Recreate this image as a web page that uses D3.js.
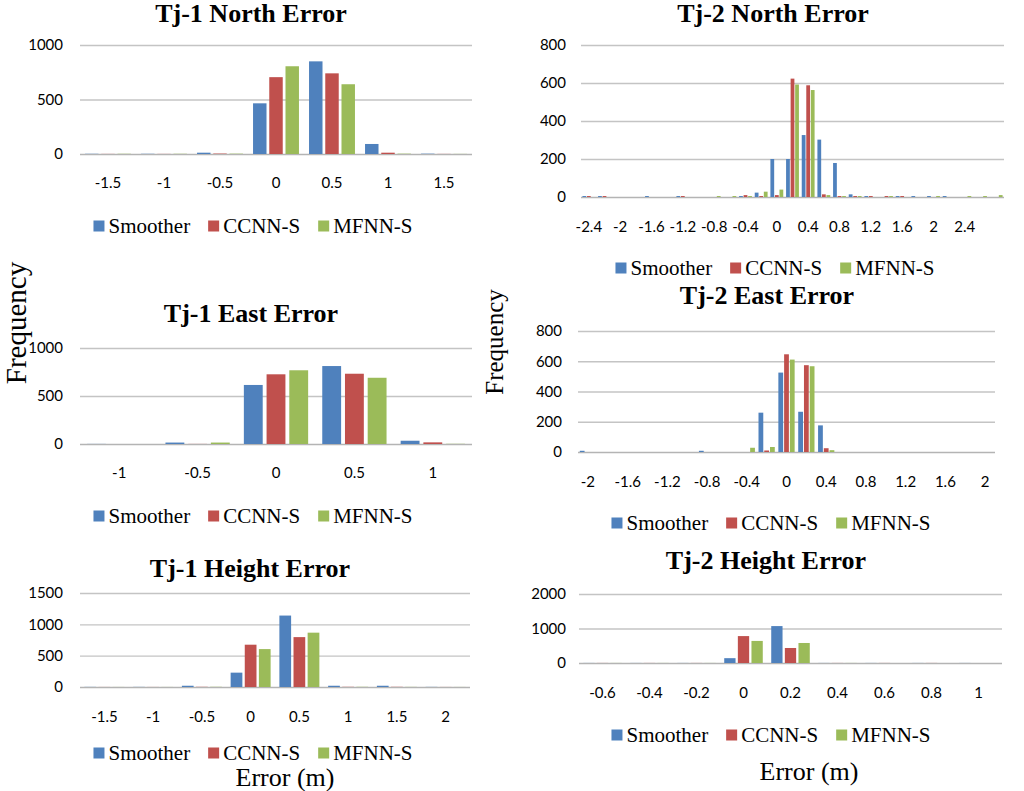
<!DOCTYPE html>
<html>
<head>
<meta charset="utf-8">
<script src="https://cdn.jsdelivr.net/npm/d3@7"></script>
<style>
  body { margin: 0; background: #fff; }
</style>
</head>
<body>
<script>
//series drawn in every panel
var seriesNames = ['Smoother', 'CCNN-S', 'MFNN-S'];
var seriesColors = ['#4f81bd', '#c0504d', '#9bbb59'];

//Tj-1 north error
var tj1NorthBins = ['-1.5', '-1', '-0.5', '0', '0.5', '1', '1.5'];
var tj1NorthSmoother = [2, 2, 12, 465, 850, 92, 3];
var tj1NorthCcnn = [1, 1, 4, 705, 740, 12, 1];
var tj1NorthMfnn = [2, 2, 3, 805, 640, 3, 1];
var tj1NorthYTicks = [0, 500, 1000];

//Tj-2 north error
var tj2NorthBins = ['-2.4', '-2.2', '-2', '-1.8', '-1.6', '-1.4', '-1.2', '-1', '-0.8', '-0.6', '-0.4', '-0.2', '0',
  '0.2', '0.4', '0.6', '0.8', '1', '1.2', '1.4', '1.6', '1.8', '2', '2.2', '2.4', '2.6', '2.8'];
var tj2NorthSmoother = [5, 5, 0, 0, 5, 0, 5, 0, 0, 0, 5, 23, 200, 200, 326, 302, 179, 14, 5, 0, 5, 5, 5, 5, 0, 0, 0];
var tj2NorthCcnn = [5, 5, 0, 0, 0, 0, 5, 0, 0, 0, 10, 5, 10, 623, 588, 14, 5, 5, 5, 5, 5, 0, 0, 0, 0, 0, 0];
var tj2NorthMfnn = [0, 0, 0, 0, 0, 0, 0, 0, 5, 5, 5, 28, 39, 592, 563, 10, 5, 5, 0, 5, 0, 0, 5, 0, 5, 5, 10];
var tj2NorthXTicks = ['-2.4', '-2', '-1.6', '-1.2', '-0.8', '-0.4', '0', '0.4', '0.8', '1.2', '1.6', '2', '2.4'];
var tj2NorthYTicks = [0, 200, 400, 600, 800];

//Tj-1 east error
var tj1EastBins = ['-1', '-0.5', '0', '0.5', '1'];
var tj1EastSmoother = [1, 15, 615, 812, 34];
var tj1EastCcnn = [0, 1, 726, 732, 17];
var tj1EastMfnn = [0, 15, 768, 690, 2];
var tj1EastYTicks = [0, 500, 1000];

//Tj-2 east error
var tj2EastBins = ['-2', '-1.8', '-1.6', '-1.4', '-1.2', '-1', '-0.8', '-0.6', '-0.4', '-0.2', '0',
  '0.2', '0.4', '0.6', '0.8', '1', '1.2', '1.4', '1.6', '1.8', '2'];
var tj2EastSmoother = [8, 0, 0, 0, 0, 0, 8, 0, 0, 260, 525, 266, 176, 0, 0, 0, 0, 0, 0, 0, 0];
var tj2EastCcnn = [0, 0, 0, 0, 0, 0, 0, 0, 0, 10, 646, 574, 25, 0, 0, 0, 0, 0, 0, 0, 0];
var tj2EastMfnn = [0, 0, 0, 0, 0, 0, 0, 0, 28, 33, 611, 567, 12, 0, 0, 0, 0, 0, 0, 0, 0];
var tj2EastXTicks = ['-2', '-1.6', '-1.2', '-0.8', '-0.4', '0', '0.4', '0.8', '1.2', '1.6', '2'];
var tj2EastYTicks = [0, 200, 400, 600, 800];

//Tj-1 height error
var tj1HeightBins = ['-1.5', '-1', '-0.5', '0', '0.5', '1', '1.5', '2'];
var tj1HeightSmoother = [2, 2, 20, 229, 1140, 20, 20, 2];
var tj1HeightCcnn = [1, 1, 3, 675, 796, 3, 3, 1];
var tj1HeightMfnn = [1, 1, 3, 605, 867, 3, 2, 1];
var tj1HeightYTicks = [0, 500, 1000, 1500];

//Tj-2 height error
var tj2HeightBins = ['-0.6', '-0.4', '-0.2', '0', '0.2', '0.4', '0.6', '0.8', '1'];
var tj2HeightSmoother = [2, 2, 2, 140, 1070, 2, 2, 2, 2];
var tj2HeightCcnn = [2, 2, 2, 780, 435, 2, 2, 2, 0];
var tj2HeightMfnn = [2, 2, 2, 640, 580, 2, 0, 0, 0];
var tj2HeightYTicks = [0, 1000, 2000];

//page size
var width = 1024,
    height = 791;

var svg = d3.select('body')
    .append('svg')
    .attr('width', width)
    .attr('height', height);

svg.append('rect')
    .attr('width', width)
    .attr('height', height)
    .attr('fill', '#fff');

//panel layouts (plot box, title, label and legend rows)
var panels = [
    {title: 'Tj-1 North Error', bins: tj1NorthBins, ticks: tj1NorthBins, yTicks: tj1NorthYTicks,
     values: [tj1NorthSmoother, tj1NorthCcnn, tj1NorthMfnn],
     left: 80, right: 472, top: 45, bottom: 154, yPad: 17,
     titleX: 251, titleY: 22, labelY: 183, legendX: 253, legendY: 226},
    {title: 'Tj-2 North Error', bins: tj2NorthBins, ticks: tj2NorthXTicks, yTicks: tj2NorthYTicks,
     values: [tj2NorthSmoother, tj2NorthCcnn, tj2NorthMfnn],
     left: 581, right: 1004, top: 45, bottom: 197, yPad: 15,
     titleX: 773, titleY: 22, labelY: 227, legendX: 775, legendY: 268},
    {title: 'Tj-1 East Error', bins: tj1EastBins, ticks: tj1EastBins, yTicks: tj1EastYTicks,
     values: [tj1EastSmoother, tj1EastCcnn, tj1EastMfnn],
     left: 80, right: 472, top: 348, bottom: 444, yPad: 17,
     titleX: 251, titleY: 322, labelY: 473, legendX: 253, legendY: 516},
    {title: 'Tj-2 East Error', bins: tj2EastBins, ticks: tj2EastXTicks, yTicks: tj2EastYTicks,
     values: [tj2EastSmoother, tj2EastCcnn, tj2EastMfnn],
     left: 578, right: 995, top: 331, bottom: 452, yPad: 16,
     titleX: 767, titleY: 304, labelY: 482, legendX: 771, legendY: 523},
    {title: 'Tj-1 Height Error', bins: tj1HeightBins, ticks: tj1HeightBins, yTicks: tj1HeightYTicks,
     values: [tj1HeightSmoother, tj1HeightCcnn, tj1HeightMfnn],
     left: 80, right: 470, top: 593, bottom: 687, yPad: 17,
     titleX: 250, titleY: 577, labelY: 717, legendX: 253, legendY: 753},
    {title: 'Tj-2 Height Error', bins: tj2HeightBins, ticks: tj2HeightBins, yTicks: tj2HeightYTicks,
     values: [tj2HeightSmoother, tj2HeightCcnn, tj2HeightMfnn],
     left: 579, right: 1002, top: 594, bottom: 663, yPad: 13,
     titleX: 766, titleY: 569, labelY: 693, legendX: 771, legendY: 735}
];

panels.forEach(drawPanel);

//axis titles
svg.append('text')
    .attr('transform', 'translate(26,323) rotate(-90)')
    .attr('text-anchor', 'middle')
    .attr('font-family', 'Liberation Serif')
    .attr('font-size', 29)
    .text('Frequency');

svg.append('text')
    .attr('transform', 'translate(503,342) rotate(-90)')
    .attr('text-anchor', 'middle')
    .attr('font-family', 'Liberation Serif')
    .attr('font-size', 25)
    .text('Frequency');

svg.append('text')
    .attr('x', 285)
    .attr('y', 786)
    .attr('text-anchor', 'middle')
    .attr('font-family', 'Liberation Serif')
    .attr('font-size', 26)
    .text('Error (m)');

svg.append('text')
    .attr('x', 809)
    .attr('y', 780)
    .attr('text-anchor', 'middle')
    .attr('font-family', 'Liberation Serif')
    .attr('font-size', 26)
    .text('Error (m)');

function drawPanel(p){
    var g = svg.append('g');

    //category bands, one slot per series inside each
    var x0 = d3.scaleBand()
        .domain(p.bins)
        .range([p.left, p.right])
        .paddingInner(0.18)
        .paddingOuter(0.09);

    var x1 = d3.scaleBand()
        .domain(seriesNames)
        .range([0, x0.bandwidth()])
        .paddingInner(0.17);

    var y = d3.scaleLinear()
        .domain([0, d3.max(p.yTicks)])
        .range([p.bottom, p.top]);

    //gridlines and y labels
    var yAxis = g.append('g')
        .attr('transform', 'translate(' + p.left + ',0)')
        .call(d3.axisLeft(y)
            .tickValues(p.yTicks)
            .tickFormat(d3.format('d'))
            .tickSize(-(p.right - p.left))
            .tickPadding(p.yPad));
    yAxis.select('.domain').remove();
    yAxis.selectAll('line')
        .attr('stroke', function(d){ return d === 0 ? '#b4b4b4' : '#c4c4c4'; })
        .attr('stroke-width', function(d){ return d === 0 ? 1.6 : 1.3; });
    yAxis.selectAll('text')
        .attr('font-family', 'Lato')
        .attr('font-size', 15)
        .attr('fill', '#000');

    //bars
    var rows = p.bins.map(function(b, i){
        return {bin: b, values: p.values.map(function(arr, s){
            return {name: seriesNames[s], color: seriesColors[s], value: arr[i]};
        })};
    });

    g.selectAll('.bin')
        .data(rows)
        .enter()
        .append('g')
        .attr('class', 'bin')
        .attr('transform', function(d){ return 'translate(' + x0(d.bin) + ',0)'; })
        .selectAll('rect')
        .data(function(d){ return d.values; })
        .enter()
        .append('rect')
        .attr('x', function(d){ return x1(d.name); })
        .attr('width', x1.bandwidth())
        .attr('y', function(d){ return y(d.value); })
        .attr('height', function(d){ return y(0) - y(d.value); })
        .attr('fill', function(d){ return d.color; });

    //x labels
    var xAxis = g.append('g')
        .attr('transform', 'translate(0,' + p.bottom + ')')
        .call(d3.axisBottom(x0).tickValues(p.ticks).tickSize(0));
    xAxis.select('.domain').remove();
    xAxis.selectAll('text')
        .attr('y', p.labelY - p.bottom)
        .attr('dy', '0.35em')
        .attr('font-family', 'Lato')
        .attr('font-size', 15)
        .attr('fill', '#000');

    //title
    g.append('text')
        .attr('x', p.titleX)
        .attr('y', p.titleY)
        .attr('text-anchor', 'middle')
        .attr('font-family', 'Liberation Serif')
        .attr('font-weight', 'bold')
        .attr('font-size', 26)
        .text(p.title);

    //legend, centred under the panel
    var legend = g.append('g');
    var items = legend.selectAll('g')
        .data(seriesNames)
        .enter()
        .append('g');
    items.append('rect')
        .attr('width', 11)
        .attr('height', 11)
        .attr('y', p.legendY - 5.5)
        .attr('fill', function(d, i){ return seriesColors[i]; });
    items.append('text')
        .attr('x', 15)
        .attr('y', p.legendY + 7)
        .attr('font-family', 'Liberation Serif')
        .attr('font-size', 21)
        .text(function(d){ return d; });

    var offset = 0;
    var widths = [];
    items.each(function(){
        var w = 15 + this.querySelector('text').getComputedTextLength();
        widths.push(w);
    });
    var total = d3.sum(widths) + 18 * (widths.length - 1);
    items.attr('transform', function(d, i){
        var x = p.legendX - total / 2 + offset;
        offset += widths[i] + 18;
        return 'translate(' + x + ',0)';
    });
}
</script>
</body>
</html>
